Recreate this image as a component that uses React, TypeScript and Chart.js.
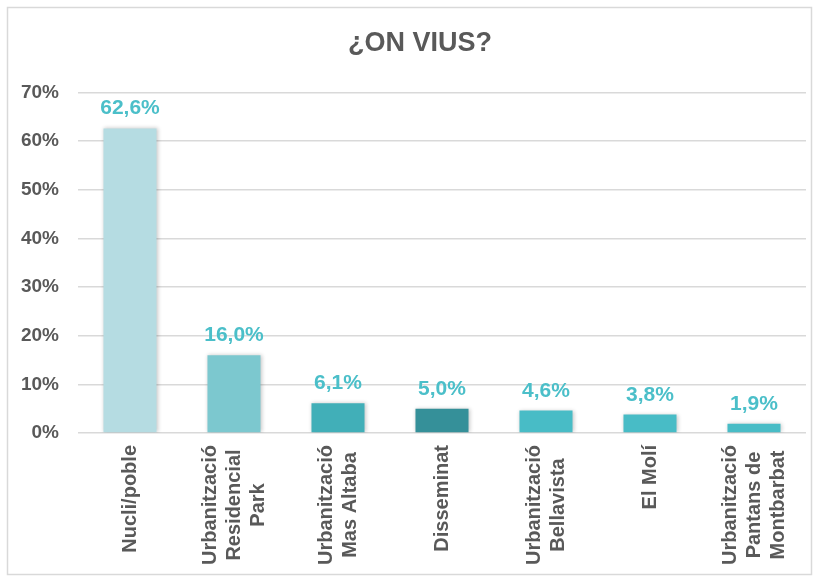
import React, { useEffect, useRef } from "react";
import { Chart, registerables } from "chart.js";

Chart.register(...registerables);

const categories: string[][] = [
  ["Nucli/poble"],
  ["Urbanització", "Residencial", "Park"],
  ["Urbanització", "Mas Altaba"],
  ["Disseminat"],
  ["Urbanització", "Bellavista"],
  ["El Molí"],
  ["Urbanització", "Pantans de", "Montbarbat"],
];
const values: number[] = [62.6, 16.0, 6.1, 5.0, 4.6, 3.8, 1.9];
const valueLabels: string[] = ["62,6%", "16,0%", "6,1%", "5,0%", "4,6%", "3,8%", "1,9%"];
const barColors: string[] = ["#b5dce2", "#7cc8cf", "#41afb8", "#359099", "#48bcc6", "#48bcc6", "#48bcc6"];
const yTicks: number[] = [0, 10, 20, 30, 40, 50, 60, 70];
const title = "¿ON VIUS?";

const FONT = "'Liberation Sans', Arial, sans-serif";
const TEXT = "#595959";
const LABEL = "#4bbfc9";
const TITLE_SIZE = 27;
const TITLE_PAD_TOP = 27;

const framePlugin = {
  id: "frame",
  beforeDraw(chart: any) {
    const ctx = chart.ctx;
    ctx.save();
    ctx.fillStyle = "#ffffff";
    ctx.fillRect(0, 0, chart.width, chart.height);
    ctx.strokeStyle = "#d9d9d9";
    ctx.lineWidth = 1.5;
    ctx.strokeRect(7.5, 7.5, 804, 567);
    ctx.restore();
  },
};

const shadowPlugin = {
  id: "barShadow",
  beforeDatasetsDraw(chart: any) {
    const ctx = chart.ctx;
    ctx.save();
    ctx.shadowColor = "rgba(0,0,0,0.22)";
    ctx.shadowBlur = 4;
    ctx.shadowOffsetX = 1;
    ctx.shadowOffsetY = 0;
  },
  afterDatasetsDraw(chart: any) {
    chart.ctx.restore();
  },
};

const labelsPlugin = {
  id: "labels",
  afterDraw(chart: any) {
    const ctx = chart.ctx;
    const meta = chart.getDatasetMeta(0);
    ctx.save();

    // title, centred on the frame
    const tb = chart.titleBlock;
    ctx.font = `bold ${TITLE_SIZE}px ${FONT}`;
    ctx.fillStyle = TEXT;
    ctx.textAlign = "center";
    ctx.textBaseline = "middle";
    ctx.fillText(title, 420, tb.top + TITLE_PAD_TOP + (TITLE_SIZE * 1.2) / 2);

    ctx.font = `bold 21px ${FONT}`;
    ctx.fillStyle = LABEL;
    ctx.textAlign = "center";
    ctx.textBaseline = "alphabetic";
    meta.data.forEach((bar: any, i: number) => {
      ctx.fillText(valueLabels[i], bar.x, bar.y - 14);
    });

    // category labels, rotated, lines centered
    const xScale = chart.scales.x;
    const top = chart.chartArea.bottom + 12;
    const lh = 24;
    ctx.font = `bold 20px ${FONT}`;
    ctx.fillStyle = TEXT;
    ctx.textAlign = "center";
    ctx.textBaseline = "middle";
    categories.forEach((lines, i) => {
      const x = xScale.getPixelForValue(i);
      const L = Math.max(...lines.map((l) => ctx.measureText(l).width));
      ctx.save();
      ctx.translate(x, top + L / 2);
      ctx.rotate(-Math.PI / 2);
      lines.forEach((line, j) => {
        ctx.fillText(line, 0, (j - (lines.length - 1) / 2) * lh);
      });
      ctx.restore();
    });
    ctx.restore();
  },
};

export default function App() {
  const ref = useRef<HTMLCanvasElement>(null);
  useEffect(() => {
    if (!ref.current) return;
    const chart = new Chart(ref.current, {
      type: "bar",
      data: {
        labels: categories.map((c) => c.join(" ")),
        datasets: [
          {
            data: values,
            backgroundColor: barColors,
            categoryPercentage: 1,
            barPercentage: 0.51,
          },
        ],
      },
      options: {
        animation: false,
        responsive: false,
        maintainAspectRatio: false,
        layout: { padding: { left: 0, right: 12, top: 0, bottom: 0 } },
        plugins: {
          legend: { display: false },
          tooltip: { enabled: false },
          title: {
            display: true,
            text: title,
            color: "rgba(0,0,0,0)",
            font: { family: FONT, size: TITLE_SIZE, weight: "bold", lineHeight: 1.2 },
            padding: { top: TITLE_PAD_TOP, bottom: 33 },
          },
        },
        scales: {
          x: {
            grid: { display: false },
            border: { display: false },
            ticks: { display: false },
            afterFit(scale: any) {
              scale.height = 146;
            },
          },
          y: {
            min: 0,
            max: 70,
            afterBuildTicks(scale: any) {
              scale.ticks = yTicks.map((v) => ({ value: v }));
            },
            afterFit(scale: any) {
              scale.width = 78;
            },
            grid: { color: "#d9d9d9", lineWidth: 1.5, drawTicks: false },
            border: { display: false },
            ticks: {
              padding: 19,
              color: TEXT,
              font: { family: FONT, size: 19, weight: "bold" },
              callback: (v: any) => `${v}%`,
            },
          },
        },
      },
      plugins: [framePlugin, shadowPlugin, labelsPlugin],
    });
    return () => chart.destroy();
  }, []);
  return (
    <div style={{ position: "absolute", left: 0, top: 0, width: 818, height: 579 }}>
      <canvas ref={ref} width={818} height={579} style={{ width: 818, height: 579 }} />
    </div>
  );
}
